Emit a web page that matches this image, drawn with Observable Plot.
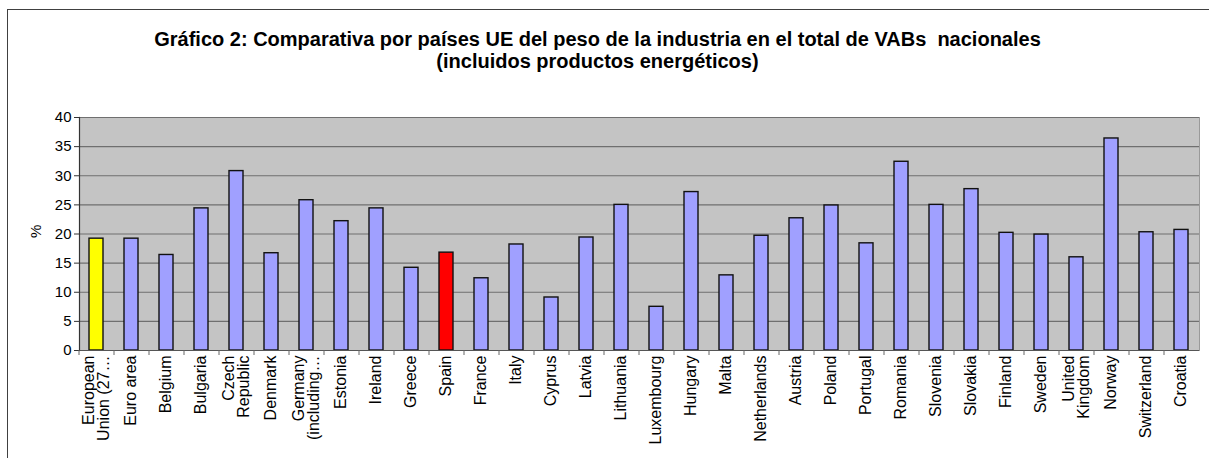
<!DOCTYPE html>
<html>
<head>
<meta charset="utf-8">
<script src="https://cdn.jsdelivr.net/npm/d3@7"></script>
<script src="https://cdn.jsdelivr.net/npm/@observablehq/plot@0.6"></script>
<style>
  html, body { margin: 0; padding: 0; background: #fff; }
  #wrap { position: relative; width: 1209px; height: 458px; overflow: hidden; font-family: "Liberation Sans", Arial, sans-serif; }
  #frame { position: absolute; left: 7px; top: 9px; width: 1300px; height: 600px; border-left: 1px solid #404040; border-top: 1px solid #404040; box-sizing: border-box; pointer-events: none; }
  #title { position: absolute; left: 0; width: 1195px; top: 28px; text-align: center; font-weight: bold; font-size: 20px; line-height: 22px; color: #000; }
  #chart { position: absolute; left: 0; top: 0; }
</style>
</head>
<body>
<div id="wrap">
  <div id="chart"></div>
  <div id="frame"></div>
  <div id="title">Gráfico 2: Comparativa por países UE del peso de la industria en el total de VABs&nbsp; nacionales<br>(incluidos productos energéticos)</div>
</div>
<script>
const categories = [
  "European\nUnion (27…", "Euro area", "Belgium", "Bulgaria", "Czech\nRepublic", "Denmark",
  "Germany\n(including…", "Estonia", "Ireland", "Greece", "Spain", "France", "Italy", "Cyprus",
  "Latvia", "Lithuania", "Luxembourg", "Hungary", "Malta", "Netherlands", "Austria", "Poland",
  "Portugal", "Romania", "Slovenia", "Slovakia", "Finland", "Sweden", "United\nKingdom",
  "Norway", "Switzerland", "Croatia"
];
const values = [
  19.2, 19.2, 16.4, 24.4, 30.8, 16.7,
  25.8, 22.2, 24.4, 14.2, 16.8, 12.4, 18.2, 9.1,
  19.4, 25.0, 7.5, 27.2, 12.9, 19.7, 22.7, 24.9,
  18.4, 32.4, 25.0, 27.7, 20.2, 19.9, 16.0,
  36.4, 20.3, 20.7
];
const yTicks = [0, 5, 10, 15, 20, 25, 30, 35, 40];
const highlight = {"European\nUnion (27…": "#ffff00", "Spain": "#ff0000"};
const baseColor = "#a0a0ff";

const data = categories.map((c, i) => ({name: c, value: values[i]}));

const W = 1209, H = 458;
const mL = 79, mR = 10, mT = 117, mB = 108;
const step = (W - mL - mR) / categories.length;

const chart = Plot.plot({
  width: W,
  height: H,
  marginLeft: mL,
  marginRight: mR,
  marginTop: mT,
  marginBottom: mB,
  style: {fontFamily: "'Liberation Sans', Arial, sans-serif", background: "transparent", color: "#000"},
  x: {domain: categories, paddingInner: 0.59, paddingOuter: 0.295, label: null},
  y: {domain: [0, 40], label: null},
  marks: [
    Plot.frame({fill: "#c4c4c4", stroke: "#9a9a9a"}),
    Plot.gridY(yTicks.slice(1), {stroke: "#6f6f6f", strokeOpacity: 1, strokeWidth: 1.2}),
    Plot.barY(data, {x: "name", y: "value", fill: d => highlight[d.name] || baseColor, stroke: "#111", strokeWidth: 1.4}),
    Plot.ruleY([0], {stroke: "#555", strokeWidth: 1.2}),
    Plot.frame({anchor: "left", stroke: "#333", strokeWidth: 1.2}),
    Plot.axisY({ticks: yTicks, tickSize: 5, tickPadding: 3, fontSize: 15, stroke: "#333", label: null}),
    Plot.text(["%"], {frameAnchor: "left", dx: -43, dy: 4, rotate: -90, fontSize: 15, text: d => d}),
    Plot.axisX({tickSize: 5, dx: -step / 2, text: null, stroke: "#666"}),
    Plot.axisX({tickSize: 0, tickPadding: 5, tickRotate: -90, fontSize: 16, lineHeight: 0.95})
  ]
});
document.getElementById("chart").appendChild(chart);
</script>
</body>
</html>
